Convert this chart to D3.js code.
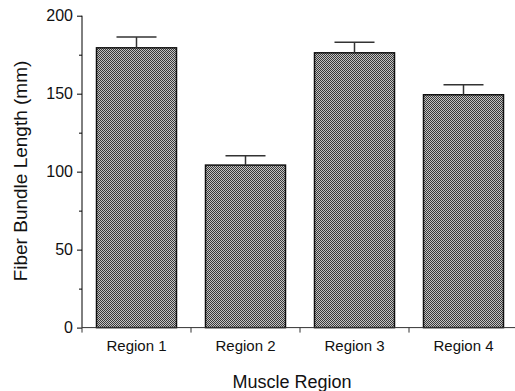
<!DOCTYPE html>
<html>
<head>
<meta charset="utf-8">
<script src="https://cdn.jsdelivr.net/npm/d3@7"></script>
<style>
	body { margin: 0; background: #fff; }
	svg { display: block; font-family: "Liberation Sans", Arial, sans-serif; }
</style>
</head>
<body>
<div class="container"></div>
<script>
const WIDTH = 515
	, HEIGHT = 391
	, LEFT = 82
	, TOP = 15.7
	, BOTTOM = 327.6
	, RIGHT = 518;

var regions = ["Region 1", "Region 2", "Region 3", "Region 4"];
var lengths = [179.4, 104.2, 176.2, 149.3];
var errors = [6.9, 6.0, 6.7, 6.4];
var yTicks = [0, 50, 100, 150, 200];
var yMinorTicks = [25, 75, 125, 175];

var svg = d3.select('.container').append('svg')
	.attr('width', WIDTH)
	.attr('height', HEIGHT);

// checker fill like the dithered grey in the original
var pat = svg.append('defs').append('pattern')
	.attr('id', 'dither')
	.attr('width', 2).attr('height', 2)
	.attr('patternUnits', 'userSpaceOnUse');
pat.append('rect').attr('width', 2).attr('height', 2).attr('fill', '#c4c4c4');
pat.append('rect').attr('width', 1).attr('height', 1).attr('fill', '#3a3a3a');
pat.append('rect').attr('x', 1).attr('y', 1).attr('width', 1).attr('height', 1).attr('fill', '#3a3a3a');

var x = d3.scaleBand()
	.domain(regions)
	.range([LEFT, RIGHT])
	.paddingInner(0.266)
	.paddingOuter(0.133);

var y = d3.scaleLinear()
	.domain([0, 200])
	.range([BOTTOM, TOP]);

// bars
svg.selectAll('rect.bar').data(lengths)
	.enter().append('rect')
	.classed('bar', true)
	.attr('x', function (d, i) { return x(regions[i]); })
	.attr('y', function (d) { return y(d); })
	.attr('width', x.bandwidth())
	.attr('height', function (d) { return BOTTOM - y(d); })
	.attr('fill', 'url(#dither)')
	.attr('stroke', '#111')
	.attr('stroke-width', 1.5);

// error bars (upper only)
var err = svg.selectAll('g.err').data(lengths)
	.enter().append('g')
	.classed('err', true)
	.attr('stroke', '#333')
	.attr('stroke-width', 1.5);
err.append('line')
	.attr('x1', function (d, i) { return x(regions[i]) + x.bandwidth() / 2; })
	.attr('x2', function (d, i) { return x(regions[i]) + x.bandwidth() / 2; })
	.attr('y1', function (d) { return y(d); })
	.attr('y2', function (d, i) { return y(d + errors[i]); });
err.append('line')
	.attr('x1', function (d, i) { return x(regions[i]) + x.bandwidth() / 2 - 20; })
	.attr('x2', function (d, i) { return x(regions[i]) + x.bandwidth() / 2 + 20; })
	.attr('y1', function (d, i) { return y(d + errors[i]); })
	.attr('y2', function (d, i) { return y(d + errors[i]); });

// y axis
var yAxis = svg.append('g')
	.attr('transform', 'translate(' + LEFT + ',0)')
	.call(d3.axisLeft(y).tickValues(yTicks).tickSize(5).tickPadding(4));
svg.append('g')
	.attr('transform', 'translate(' + LEFT + ',0)')
	.call(d3.axisLeft(y).tickValues(yMinorTicks).tickSize(3).tickFormat(''))
	.select('.domain').remove();
yAxis.select('.domain').attr('d', 'M0,' + TOP + 'V' + BOTTOM);
yAxis.selectAll('text').attr('font-size', 16).attr('fill', '#111')
	.style('font-family', '"Liberation Sans", Arial, sans-serif');

// x axis: ticks sit at band edges
var xAxisG = svg.append('g').attr('transform', 'translate(0,' + BOTTOM + ')');
xAxisG.append('line')
	.attr('x1', LEFT).attr('x2', WIDTH)
	.attr('stroke', '#333');
xAxisG.selectAll('line.tick').data(regions)
	.enter().append('line')
	.attr('x1', function (d) { return x(d) - x.step() * 0.133; })
	.attr('x2', function (d) { return x(d) - x.step() * 0.133; })
	.attr('y1', 0).attr('y2', 5)
	.attr('stroke', '#333');
xAxisG.selectAll('text').data(regions)
	.enter().append('text')
	.attr('x', function (d) { return x(d) + x.bandwidth() / 2; })
	.attr('y', 23)
	.attr('text-anchor', 'middle')
	.attr('font-size', 15)
	.attr('fill', '#111')
	.text(function (d) { return d; });

// axis titles
svg.append('text')
	.attr('transform', 'translate(27,171) rotate(-90)')
	.attr('text-anchor', 'middle')
	.attr('font-size', 19)
	.attr('fill', '#111')
	.text('Fiber Bundle Length (mm)');
svg.append('text')
	.attr('x', 292)
	.attr('y', 388)
	.attr('text-anchor', 'middle')
	.attr('font-size', 18)
	.attr('fill', '#111')
	.text('Muscle Region');
</script>
</body>
</html>
